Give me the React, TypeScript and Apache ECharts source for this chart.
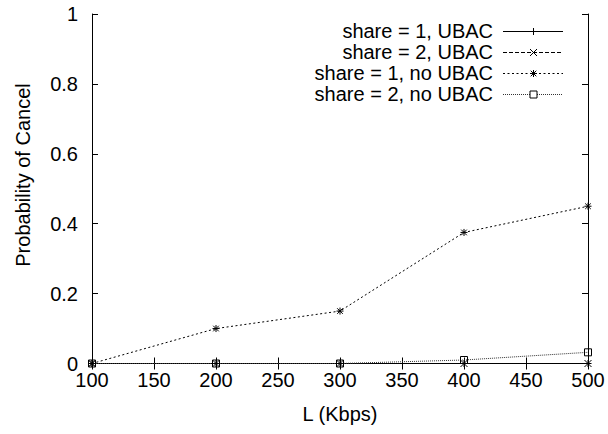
import React, { useEffect, useRef } from "react";
import * as echarts from "echarts";

const bandwidthKbps = [100, 200, 300, 400, 500];
const share1Ubac = [0, 0, 0, 0, 0];
const share2Ubac = [0, 0, 0, 0, 0];
const share1NoUbac = [0, 0.1, 0.15, 0.375, 0.45];
const share2NoUbac = [0, 0, 0, 0.01, 0.032];
const seriesNames = [
  "share = 1, UBAC",
  "share = 2, UBAC",
  "share = 1, no UBAC",
  "share = 2, no UBAC",
];
const xTitle = "L (Kbps)";
const yTitle = "Probability of Cancel";

const FONT = "'Liberation Sans', Arial, Helvetica, sans-serif";

const SYM_PLUS = "path://M0,5L10,5M5,0L5,10";
const SYM_X = "path://M0,0L10,10M10,0L0,10";
const SYM_STAR = "path://M0,5L10,5M5,0L5,10M1,1L9,9M9,1L1,9";
const SYM_SQUARE = "path://M0,0L10,0L10,10L0,10Z";

const DASHES: any[] = ["solid", [4, 2], [2, 2.5], [1, 1]];
const LINE_COLORS = ["#000", "#000", "#000", "#333"];

function pairs(vals: number[]) {
  return bandwidthKbps.map((x, i) => [x, vals[i]]);
}

function legendMarker(kind: number, cx: number, cy: number) {
  const r = 3.5;
  const ls = { stroke: "#000", lineWidth: 1 };
  const seg = (x1: number, y1: number, x2: number, y2: number) => ({
    type: "line",
    shape: { x1, y1, x2, y2 },
    style: ls,
  });
  if (kind === 0) return [seg(cx - r, cy, cx + r, cy), seg(cx, cy - r, cx, cy + r)];
  if (kind === 1) return [seg(cx - r, cy - r, cx + r, cy + r), seg(cx + r, cy - r, cx - r, cy + r)];
  if (kind === 2)
    return [
      seg(cx - r, cy, cx + r, cy),
      seg(cx, cy - r, cx, cy + r),
      seg(cx - r + 0.7, cy - r + 0.7, cx + r - 0.7, cy + r - 0.7),
      seg(cx + r - 0.7, cy - r + 0.7, cx - r + 0.7, cy + r - 0.7),
    ];
  return [
    {
      type: "rect",
      shape: { x: cx - r, y: cy - r, width: 2 * r, height: 2 * r },
      style: { fill: "#fff", stroke: "#000", lineWidth: 1 },
    },
  ];
}

export default function App() {
  const ref = useRef<HTMLDivElement>(null);
  useEffect(() => {
    if (!ref.current) return;
    const chart = echarts.init(ref.current, undefined, { renderer: "svg" });
    const mkSeries = (i: number, vals: number[], symbol: string) => ({
      name: seriesNames[i],
      type: "line",
      data: pairs(vals),
      symbol,
      symbolSize: 7,
      showSymbol: true,
      lineStyle: { color: LINE_COLORS[i], width: 1, type: DASHES[i] },
      itemStyle: { color: "rgba(0,0,0,0)", borderColor: "#000", borderWidth: 1 },
      emphasis: { disabled: true },
      xAxisIndex: 0,
      yAxisIndex: 0,
    });
    const tickCommon = {
      axisLine: { show: true, lineStyle: { color: "#000", width: 1 } },
      axisTick: { show: true, inside: true, length: 6, lineStyle: { color: "#000" } },
      splitLine: { show: false },
    };

    const legendEls: any[] = [];
    const rowY = [31, 52, 73, 94];
    seriesNames.forEach((name, i) => {
      const y = rowY[i] + 0.5;
      legendEls.push({
        type: "text",
        x: 493,
        y: rowY[i],
        style: {
          text: name,
          fontSize: 20,
          fontFamily: FONT,
          fill: "#000",
          align: "right",
          verticalAlign: "middle",
        },
      });
      legendEls.push({
        type: "line",
        shape: { x1: 503, y1: y, x2: 563, y2: y },
        style: {
          stroke: LINE_COLORS[i],
          lineWidth: 1,
          lineDash: DASHES[i] === "solid" ? null : DASHES[i],
        },
      });
      legendMarker(i, 533.5, y).forEach((el) => legendEls.push(el));
    });

    chart.setOption({
      animation: false,
      backgroundColor: "#fff",
      textStyle: { fontFamily: FONT },
      grid: { left: 92, right: 20, top: 14, bottom: 70.5 },
      xAxis: [
        {
          type: "value",
          min: 100,
          max: 500,
          interval: 50,
          name: xTitle,
          nameLocation: "middle",
          nameGap: 40,
          nameTextStyle: { fontSize: 20, color: "#000", fontFamily: FONT },
          axisLabel: { fontSize: 20, color: "#000", margin: 6, fontFamily: FONT },
          ...tickCommon,
        },
        {
          type: "value",
          position: "top",
          min: 100,
          max: 500,
          interval: 50,
          axisLabel: { show: false },
          ...tickCommon,
        },
      ],
      yAxis: [
        {
          type: "value",
          min: 0,
          max: 1,
          interval: 0.2,
          axisLabel: { fontSize: 20, color: "#000", margin: 14, fontFamily: FONT },
          ...tickCommon,
        },
        {
          type: "value",
          position: "right",
          min: 0,
          max: 1,
          interval: 0.2,
          axisLabel: { show: false },
          ...tickCommon,
        },
      ],
      graphic: [
        {
          type: "text",
          x: 23,
          y: 175,
          rotation: Math.PI / 2,
          style: {
            text: yTitle,
            fontSize: 20,
            fontFamily: FONT,
            fill: "#000",
            align: "center",
            verticalAlign: "middle",
          },
        },
        ...legendEls,
      ],
      series: [
        mkSeries(0, share1Ubac, SYM_PLUS),
        mkSeries(1, share2Ubac, SYM_X),
        mkSeries(2, share1NoUbac, SYM_STAR),
        mkSeries(3, share2NoUbac, SYM_SQUARE),
      ],
    });
    return () => chart.dispose();
  }, []);
  return (
    <div
      ref={ref}
      style={{ position: "absolute", left: 0, top: 0, width: 608, height: 434 }}
    />
  );
}
